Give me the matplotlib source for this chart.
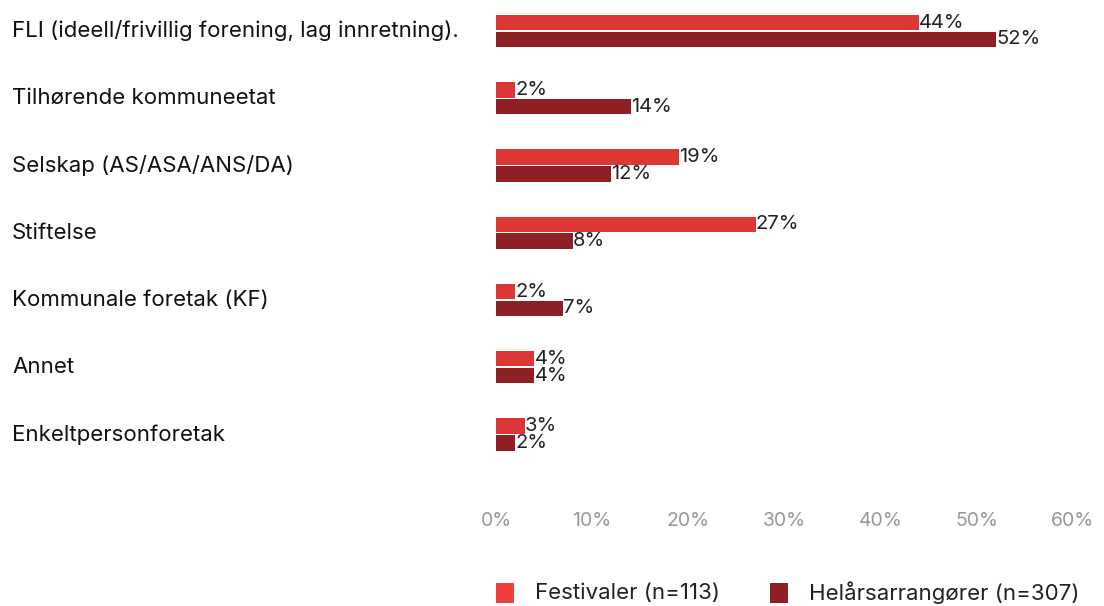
import matplotlib.pyplot as plt
import matplotlib.transforms as mtransforms
from matplotlib.patches import Rectangle

categories = [
    "FLI (ideell/frivillig forening, lag innretning).",
    "Tilhørende kommuneetat",
    "Selskap (AS/ASA/ANS/DA)",
    "Stiftelse",
    "Kommunale foretak (KF)",
    "Annet",
    "Enkeltpersonforetak",
]
festivaler = [44, 2, 19, 27, 2, 4, 3]
helaar = [52, 14, 12, 8, 7, 4, 2]
series_names = ["Festivaler (n=113)", "Helårsarrangører (n=307)"]
ticks = [0, 10, 20, 30, 40, 50, 60]

LIGHT = "#dc3734"
DARK = "#8e2025"

plt.rcParams["font.family"] = ["Inter", "DejaVu Sans"]

W, H = 1104, 606
fig = plt.figure(figsize=(W / 100, H / 100), dpi=100)
ax = fig.add_axes([496 / W, 1 - 505 / H, (1073 - 496) / W, 505 / H])

y = list(range(len(categories)))
h = 0.23
off = 0.125
ax.barh([v - off for v in y], festivaler, height=h, color=LIGHT)
ax.barh([v + off for v in y], helaar, height=h, color=DARK)

for i, (a, b) in enumerate(zip(festivaler, helaar)):
    ax.text(a, i - off, f"{a}%", va="center", ha="left", fontsize=14.5, color="#222222")
    ax.text(b, i + off, f"{b}%", va="center", ha="left", fontsize=14.5, color="#222222")

trans = mtransforms.blended_transform_factory(fig.transFigure, ax.transData)
for i, c in enumerate(categories):
    ax.text(12 / W, i, c, transform=trans, va="center", ha="left", fontsize=16, color="#111111")

ax.set_xlim(0, 60)
ax.set_ylim(7.05, -0.46)
ax.set_xticks(ticks)
ax.set_xticklabels([f"{t}%" for t in ticks], fontsize=14, color="#999999")
ax.set_yticks([])
ax.tick_params(axis="x", length=0, pad=5)
for s in ax.spines.values():
    s.set_visible(False)

# legend drawn by hand so the squares land where the reference has them
legend_colors = ["#ef4040", DARK]
legend_x = [496, 770]
for x0, col, name in zip(legend_x, legend_colors, series_names):
    fig.patches.append(Rectangle((x0 / W, 1 - 603 / H), 18 / W, 20 / H,
                                 transform=fig.transFigure, facecolor=col, edgecolor="none"))
    fig.text((x0 + 39) / W, 1 - 593 / H, name, ha="left", va="center", fontsize=16, color="#222222")

fig.savefig("out.png", dpi=100)
